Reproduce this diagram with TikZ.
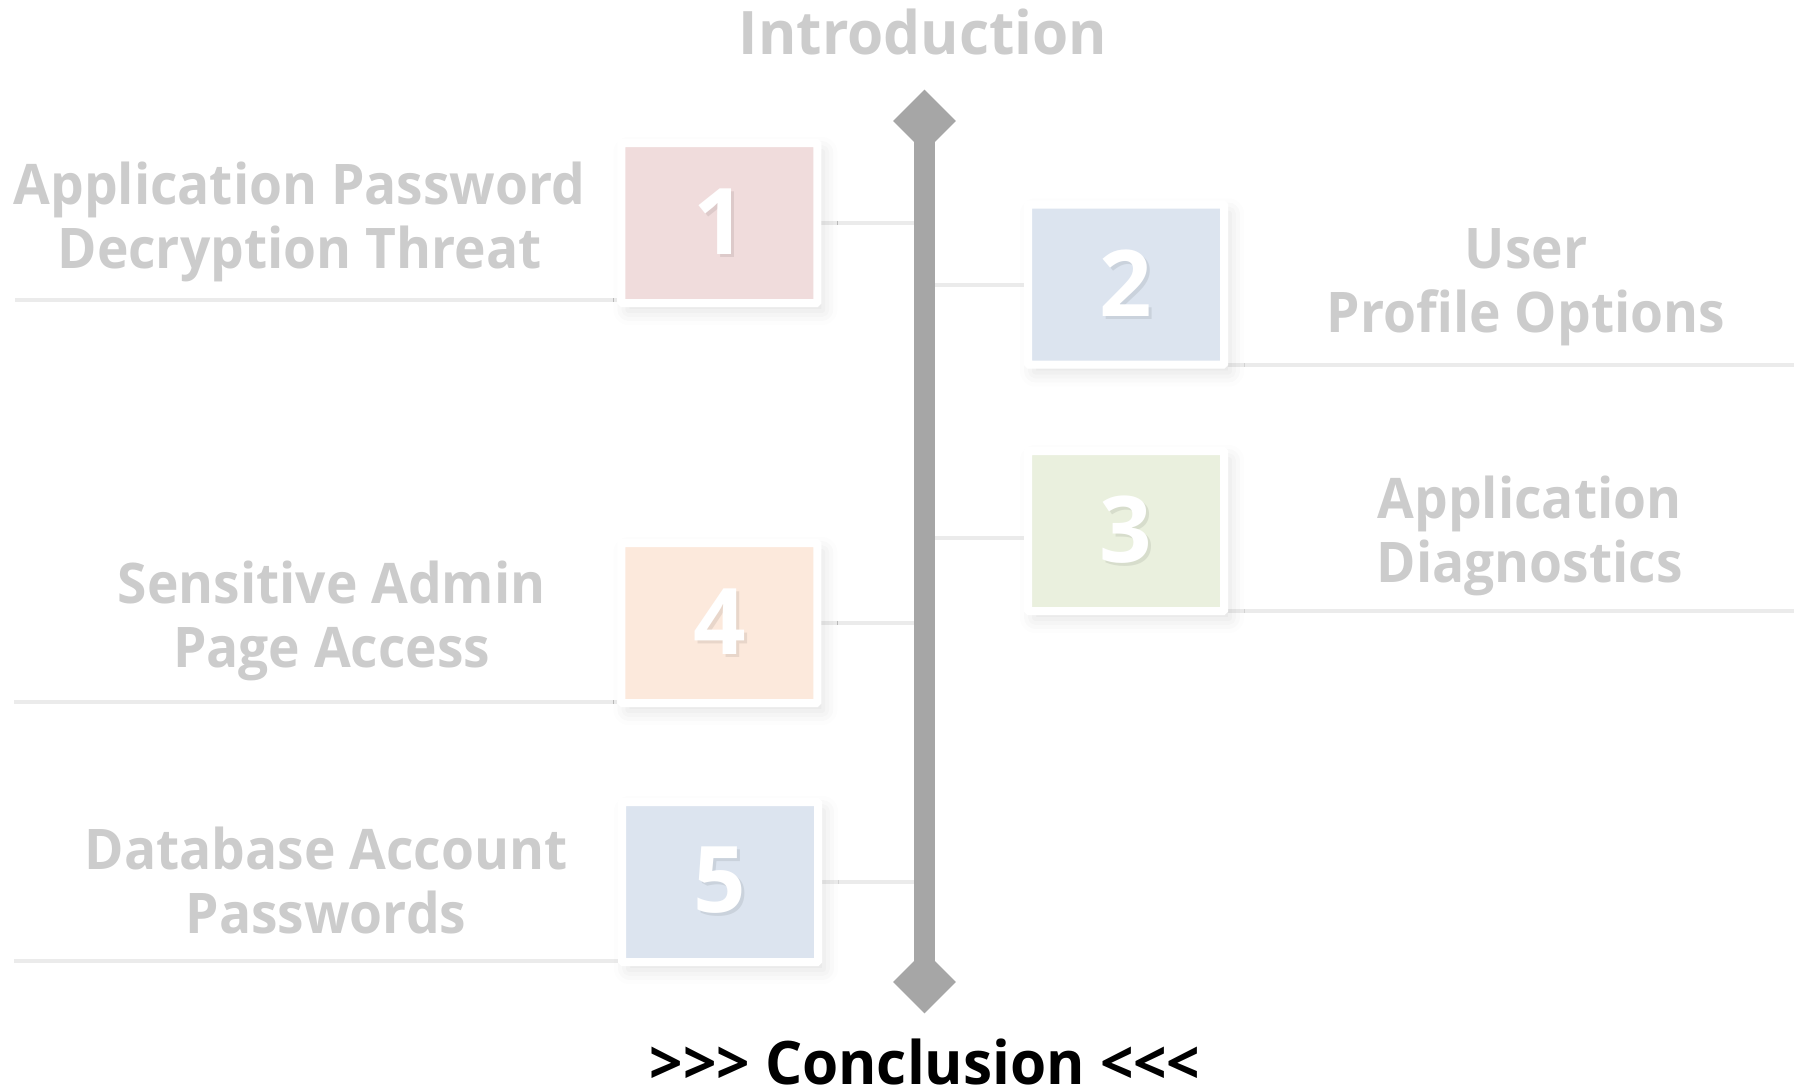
\documentclass[tikz,border=0pt]{standalone}
\usepackage{fontspec}
\setmainfont{Open Sans}
\newfontfamily\lblfont[FakeStretch=0.952]{Open Sans}
\newfontfamily\introfont[FakeStretch=0.975]{Open Sans}
\usetikzlibrary{shapes.geometric,shadows.blur,backgrounds}
\definecolor{cpink}{HTML}{F0DCDC}
\definecolor{cblue}{HTML}{DCE4EF}
\definecolor{cgreen}{HTML}{EAF0DE}
\definecolor{cpeach}{HTML}{FCE9DC}
\definecolor{bargray}{HTML}{A6A6A6}
\definecolor{labelgray}{HTML}{CCCCCC}
\definecolor{linegray}{HTML}{EBEBEB}
% white digit with a soft darker copy behind it
\newcommand\digit[2]{\makebox[0pt][l]{\hspace{3pt}\raisebox{-3pt}{\color{#1!92!black}#2}}#2}
\tikzset{
  numbox/.style={draw=white, line width=8pt, fill=#1, minimum width=196pt,
    minimum height=160pt, inner sep=0pt, rounded corners=1pt, text=white,
    font=\fontsize{92}{92}\selectfont\bfseries,
    blur shadow={shadow xshift=6pt, shadow yshift=-8pt, shadow blur radius=14pt, shadow opacity=12}},
  uline/.style={draw=linegray, line width=4pt},
  conn/.style={draw=linegray, line width=4pt},
  barline/.style={draw=bargray, line width=21pt},
  endcap/.style={diamond, fill=bargray, minimum width=63pt, minimum height=63pt, inner sep=0pt, shape aspect=1},
  lbl/.style={text=labelgray, align=center, anchor=base, inner sep=0pt,
    font=\lblfont\fontsize{56}{64}\selectfont\bfseries},
  title/.style={anchor=base, inner sep=0pt, font=\introfont\fontsize{60}{60}\selectfont\bfseries}
}
\begin{document}
\begin{tikzpicture}[x=1pt,y=-1pt]
\useasboundingbox (0,0) rectangle (1806,1085);
% timeline ends and bar
\node[endcap] (top) at (924.5,121) {};
\node[endcap] (bot) at (924.5,982) {};
\draw[barline] (top.center) -- (bot.center);
\coordinate (barL) at (914,0);
\coordinate (barR) at (935,0);
% underlines beneath the labels
\coordinate (u1) at (15,299.5);
\coordinate (u2) at (1794,364.5);
\coordinate (u3) at (1794,610.5);
\coordinate (u4) at (14,702);
\coordinate (u5) at (14,960.6);
% numbered boxes
\node[numbox=cpink]  (b1) at (719.3,223)   {\digit{cpink}{1}};
\node[numbox=cblue]  (b2) at (1126,284.5)  {\digit{cblue}{2}};
\node[numbox=cgreen] (b3) at (1126,531)    {\digit{cgreen}{3}};
\node[numbox=cpeach] (b4) at (719.3,623)   {\digit{cpeach}{4}};
\node[numbox=cblue]  (b5) at (720,882)     {\digit{cblue}{5}};
% connectors and underlines, beneath the boxes
\begin{scope}[on background layer]
\draw[uline] (u1) -- (u1 -| b1.west);
\draw[uline] (u2 -| b2.east) -- (u2);
\draw[uline] (u3 -| b3.east) -- (u3);
\draw[uline] (u4) -- (u4 -| b4.west);
\draw[uline] (u5) -- (u5 -| b5.west);
\draw[conn] (b1.east) -- (b1.east -| barL);
\draw[conn] (b2.west -| barR) -- (b2.west);
\draw[conn] ([yshift=-7pt]b3.west -| barR) -- ([yshift=-7pt]b3.west);
\draw[conn] (b4.east) -- (b4.east -| barL);
\draw[conn] (b5.east) -- (b5.east -| barL);
\end{scope}
% labels (anchored at the baseline of their last line)
\node[lbl] (l1) at (299.5,268)  {Application Password\\Decryption Threat};
\node[lbl] (l2) at (1526,332.4) {User\\Profile Options};
\node[lbl] (l3) at (1529.6,582.3) {Application\\Diagnostics};
\node[lbl] (l4) at (331.7,667.5) {Sensitive Admin\\Page Access};
\node[lbl] (l5) at (326,933.6)  {Database Account\\Passwords};
\node[title, text=labelgray] (intro) at (923,54.3) {Introduction};
\node[title, text=black] (concl) at (925,1084) {>\kern0pt>\kern0pt> Conclusion <\kern0pt<\kern0pt<};
\end{tikzpicture}
\end{document}
